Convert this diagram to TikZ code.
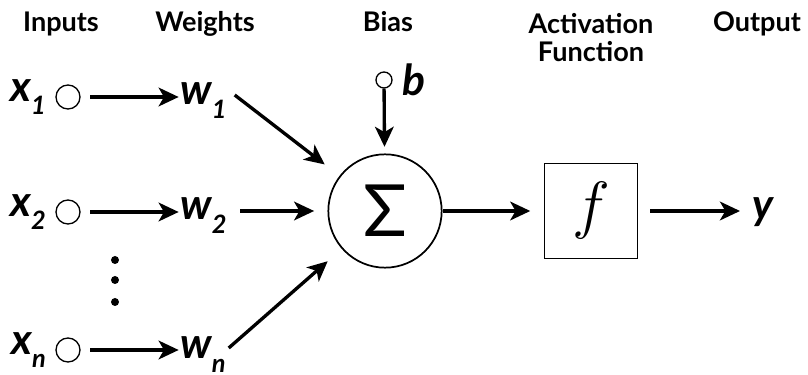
\RequirePackage{fix-cm}
\documentclass[tikz,border=0pt]{standalone}
\usepackage{fontspec}
\setmainfont{Lato}
\usetikzlibrary{arrows.meta, positioning}

\newcommand{\vsub}[2]{#1\raisebox{-10pt}{\fontsize{19}{19}\selectfont #2}}

\begin{document}
\begin{tikzpicture}[
  x=0.75pt, y=0.75pt,
  head/.style={font=\fontsize{20.3}{21}\selectfont\bfseries, align=center, inner sep=0pt},
  var/.style={font=\fontsize{32}{32}\selectfont\bfseries\itshape, inner sep=0pt},
  inp/.style={draw, circle, line width=1pt, minimum size=18pt, inner sep=0pt},
  bin/.style={draw, circle, line width=1pt, minimum size=12pt, inner sep=0pt},
  sumnode/.style={draw, circle, line width=1.3pt, minimum size=85pt, inner sep=0pt,
                  font=\fontsize{54}{54}\selectfont},
  actbox/.style={draw, line width=1.1pt, minimum width=70pt, minimum height=71pt,
                 inner sep=0pt, font=\fontsize{48}{48}\selectfont},
  dotnode/.style={circle, fill, minimum size=6pt, inner sep=0pt},
  flow/.style={-{Stealth[length=15pt, width=14pt, inset=4pt]}, line width=2.5pt}
]
\useasboundingbox (0,0) rectangle (808,375);

\node[head, anchor=base]  (hin)  at (61,343)  {Inputs};
\node[head, anchor=base]  (hw)   at (205,343) {Weights};
\node[head, anchor=base]  (hb)   at (388,343) {Bias};
\node[head, anchor=north] (hact) at (591,362) {Activation\\Function};
\node[head, anchor=base]  (hout) at (757,343) {Output};

\node[inp] (x1) at (68,278) {};
\node[inp] (x2) at (68,163) {};
\node[inp] (xn) at (68,25)  {};
\node[var, left=7pt of x1] (lx1) {\vsub{x}{1}};
\node[var, left=7pt of x2] (lx2) {\vsub{x}{2}};
\node[var, left=7pt of xn] (lxn) {\vsub{x}{n}};

\foreach \yy [count=\i] in {115,95,73}
  \node[dotnode] (dot\i) at (115,\yy) {};

\node[var, anchor=west] (w1) at (180,274.5) {\vsub{w}{1}};
\node[var, anchor=west] (w2) at (180,159.5) {\vsub{w}{2}};
\node[var, anchor=west] (wn) at (180,20.5)  {\vsub{w}{n}};

\node[sumnode] (sum) at (385,164) {Σ};
\node[bin] (bias) at (384,295) {};
\node[var, right=7pt of bias] (lb) {b};

\node[actbox] (act) at (591,164) {$f$};
\node[var, anchor=west] (yout) at (752,163) {y};

\draw[flow, shorten <=7pt, shorten >=1pt] (x1.east) -- (x1.east -| w1.west);
\draw[flow, shorten <=7pt, shorten >=1pt] (x2.east) -- (x2.east -| w2.west);
\draw[flow, shorten <=7pt, shorten >=1pt] (xn.east) -- (xn.east -| wn.west);

\draw[flow, shorten >=14pt] ([shift={(8,5.5)}]w1.east) -- (sum);
\draw[flow, shorten <=10pt, shorten >=10pt] (w2.east |- sum) -- (sum.west);
\draw[flow, shorten >=14pt] ([shift={(3,6.5)}]wn.east) -- (sum);
\draw[flow, shorten >=5pt] (bias) -- (sum);

\draw[flow, shorten >=10pt] (sum) -- (act);
\draw[flow, shorten <=9pt, shorten >=9pt] (act.east) -- (act.east -| yout.west);
\end{tikzpicture}
\end{document}
